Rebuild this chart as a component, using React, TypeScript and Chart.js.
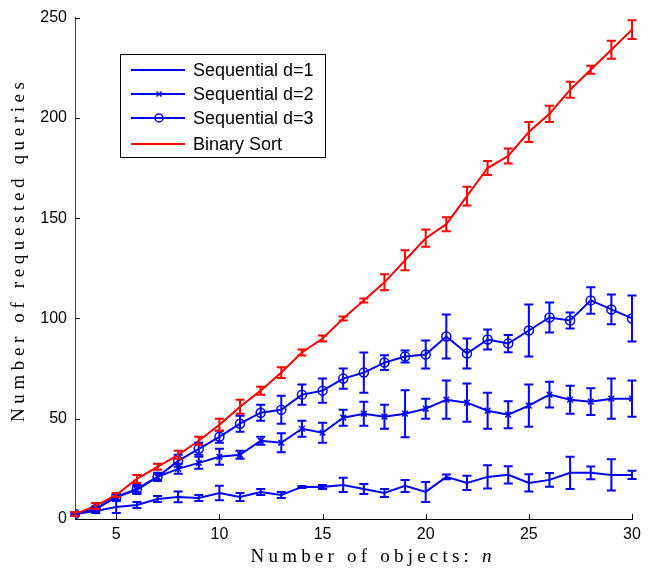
import React, { useEffect, useRef } from "react";
import { Chart, registerables } from "chart.js";

Chart.register(...registerables);

const objects = [3, 4, 5, 6, 7, 8, 9, 10, 11, 12, 13, 14, 15, 16, 17, 18, 19, 20, 21, 22, 23, 24, 25, 26, 27, 28, 29, 30];

const binarySort = [2.5, 6.5, 12, 20, 26, 32, 39, 47, 56, 64, 73, 83, 90, 100, 109, 118, 129, 140, 147, 161, 175, 181, 193, 202, 214, 224, 234, 244];
const binarySortErr = [1, 1.5, 1, 2, 1.5, 2, 2, 3, 3.5, 2, 2.7, 1.5, 1.5, 1, 1, 4, 5, 4.3, 3.5, 4.7, 3.5, 3.7, 5, 4, 4, 2, 4.5, 4.7];

const seqD3 = [2.5, 5, 11, 15, 21, 29, 35, 41, 47.5, 53, 54.5, 62, 64, 70, 73, 78, 81, 82, 91, 82.5, 89.5, 87.5, 94, 100.5, 99, 109, 104.5, 100];
const seqD3Err = [1, 1, 1.5, 2, 2, 3, 3, 3, 4, 4, 7, 5, 6, 5, 10, 3.7, 3, 7, 11, 7.5, 5, 4.3, 13, 7.5, 4, 6.6, 7.4, 11.5];

const seqD2 = [2.5, 5, 11, 14.5, 21, 25, 28, 31, 32, 39, 38, 45, 43, 50.5, 52.5, 51, 52.5, 55, 59.5, 58, 54, 52, 56.5, 62, 59.5, 58.5, 60, 60];
const seqD2Err = [1, 1, 1.5, 2, 1.5, 2.5, 3, 4, 2, 2, 4.7, 4, 5, 4, 6, 6, 11.7, 5, 9.5, 9.5, 9, 6.7, 10.5, 6.4, 7, 6.7, 10, 9];

const seqD1 = [2.5, 4, 6, 7, 10, 11, 10.5, 13, 11, 13.5, 12, 16, 16, 17, 15, 13, 16.5, 13.5, 21, 18, 21, 22, 18, 19.5, 23, 23, 22, 22];
const seqD1Err = [0.5, 1, 3, 1.5, 1.5, 2.7, 1.5, 3.6, 2, 1.5, 1.5, 0.5, 1, 3.6, 2.5, 2, 3, 5, 1.2, 3.6, 5.8, 4.3, 4.3, 3.4, 8, 3.2, 7.8, 2];

const xTicks = [5, 10, 15, 20, 25, 30];
const yTicks = [0, 50, 100, 150, 200, 250];

const legendLabels = ["Sequential d=1", "Sequential d=2", "Sequential d=3", "Binary Sort"];

const BLUE = "#0000ff";
const RED = "#ff0000";

const toPoints = (ys: number[]) => objects.map((x, i) => ({ x, y: ys[i] }));

export default function App() {
  const ref = useRef<HTMLCanvasElement | null>(null);

  useEffect(() => {
    document.body.style.margin = "0";
    const canvas = ref.current;
    if (!canvas) return;

    const errs = [binarySortErr, seqD3Err, seqD2Err, seqD1Err];
    const vals = [binarySort, seqD3, seqD2, seqD1];

    const errorBars = {
      id: "errorBars",
      afterDatasetsDraw(chart: any) {
        const ctx = chart.ctx;
        const ys = chart.scales.y;
        ctx.save();
        for (let d = chart.data.datasets.length - 1; d >= 0; d--) {
          const meta = chart.getDatasetMeta(d);
          const color = chart.data.datasets[d].borderColor;
          ctx.strokeStyle = color;
          ctx.lineWidth = 2;
          meta.data.forEach((pt: any, i: number) => {
            const v = vals[d][i];
            const e = errs[d][i];
            const yt = ys.getPixelForValue(v + e);
            const yb = ys.getPixelForValue(v - e);
            const x = pt.x;
            const cw = 4.5;
            ctx.beginPath();
            ctx.moveTo(x, yt);
            ctx.lineTo(x, yb);
            ctx.moveTo(x - cw, yt);
            ctx.lineTo(x + cw, yt);
            ctx.moveTo(x - cw, yb);
            ctx.lineTo(x + cw, yb);
            ctx.stroke();
          });
        }
        ctx.restore();
      },
    };

    const decorations = {
      id: "decorations",
      afterDraw(chart: any) {
        const ctx = chart.ctx;
        const xs = chart.scales.x;
        const ys = chart.scales.y;
        const area = chart.chartArea;
        ctx.save();
        // inward ticks
        ctx.strokeStyle = "#000";
        ctx.lineWidth = 1;
        ctx.beginPath();
        xTicks.forEach((t) => {
          const x = Math.round(xs.getPixelForValue(t)) + 0.5;
          ctx.moveTo(x, area.bottom);
          ctx.lineTo(x, area.bottom - 5);
        });
        yTicks.forEach((t) => {
          const y = Math.round(ys.getPixelForValue(t)) + 0.5;
          ctx.moveTo(area.left, y);
          ctx.lineTo(area.left + 5, y);
        });
        ctx.stroke();

        // legend
        const lx = 120.5, ly = 54.5, lw = 205, lh = 103;
        ctx.fillStyle = "#fff";
        ctx.fillRect(lx, ly, lw, lh);
        ctx.strokeStyle = "#000";
        ctx.lineWidth = 1;
        ctx.strokeRect(lx, ly, lw, lh);
        const rows = [70, 94, 118, 144];
        const colors = [BLUE, BLUE, BLUE, RED];
        ctx.font = "18px 'Liberation Sans', Arial, sans-serif";
        ctx.textBaseline = "middle";
        ctx.textAlign = "left";
        rows.forEach((y, i) => {
          ctx.strokeStyle = colors[i];
          ctx.lineWidth = 2;
          ctx.beginPath();
          ctx.moveTo(131, y);
          ctx.lineTo(185, y);
          ctx.stroke();
          const cx = 159;
          if (i === 1) {
            ctx.lineWidth = 1.5;
            ctx.beginPath();
            ctx.moveTo(cx - 2.5, y - 2.5);
            ctx.lineTo(cx + 2.5, y + 2.5);
            ctx.moveTo(cx - 2.5, y + 2.5);
            ctx.lineTo(cx + 2.5, y - 2.5);
            ctx.stroke();
          } else if (i === 2) {
            ctx.lineWidth = 1.5;
            ctx.beginPath();
            ctx.arc(cx, y, 4, 0, Math.PI * 2);
            ctx.stroke();
          }
          ctx.fillStyle = "#000";
          ctx.fillText(legendLabels[i], 193, y + 1);
        });

        // axis titles (serif, LaTeX-like spacing)
        ctx.fillStyle = "#000";
        ctx.textBaseline = "middle";
        const serif = "'Liberation Serif', 'DejaVu Serif', serif";
        const fs = 19;
        // x title
        const part1 = "Number of objects: ";
        const part2 = "n";
        ctx.font = `${fs}px ${serif}`;
        (ctx as any).letterSpacing = "0px";
        const w1raw = ctx.measureText(part1).width;
        ctx.font = `italic ${fs}px ${serif}`;
        const w2 = ctx.measureText(part2).width;
        const targetX = 241;
        const spacing = Math.max(0, (targetX - w1raw - w2) / part1.length);
        const startX = 371 - targetX / 2;
        ctx.font = `${fs}px ${serif}`;
        (ctx as any).letterSpacing = `${spacing}px`;
        ctx.textAlign = "left";
        ctx.fillText(part1, startX, 557);
        const w1 = ctx.measureText(part1).width;
        (ctx as any).letterSpacing = "0px";
        ctx.font = `italic ${fs}px ${serif}`;
        ctx.fillText(part2, startX + w1, 557);

        // y title
        const yt = "Number of requested queries";
        ctx.font = `${fs}px ${serif}`;
        (ctx as any).letterSpacing = "0px";
        const wy = ctx.measureText(yt).width;
        const targetY = 340;
        const sy = Math.max(0, (targetY - wy) / (yt.length - 1));
        ctx.save();
        ctx.translate(19, 252);
        ctx.rotate(-Math.PI / 2);
        (ctx as any).letterSpacing = `${sy}px`;
        ctx.textAlign = "left";
        ctx.fillText(yt, -targetY / 2, 0);
        ctx.restore();
        (ctx as any).letterSpacing = "0px";
        ctx.restore();
      },
    };

    const chart = new Chart(canvas, {
      type: "line",
      data: {
        datasets: [
          {
            label: legendLabels[3],
            data: toPoints(binarySort),
            borderColor: RED,
            backgroundColor: RED,
            borderWidth: 2,
            pointRadius: 0,
          },
          {
            label: legendLabels[2],
            data: toPoints(seqD3),
            borderColor: BLUE,
            backgroundColor: "rgba(0,0,0,0)",
            borderWidth: 2,
            pointStyle: "circle",
            pointRadius: 4.5,
            pointBorderWidth: 1.5,
            pointBorderColor: BLUE,
            pointBackgroundColor: "rgba(0,0,0,0)",
          },
          {
            label: legendLabels[1],
            data: toPoints(seqD2),
            borderColor: BLUE,
            backgroundColor: BLUE,
            borderWidth: 2,
            pointStyle: "crossRot",
            pointRadius: 4,
            pointBorderWidth: 1.5,
            pointBorderColor: BLUE,
          },
          {
            label: legendLabels[0],
            data: toPoints(seqD1),
            borderColor: BLUE,
            backgroundColor: BLUE,
            borderWidth: 2,
            pointRadius: 0,
          },
        ],
      },
      options: {
        responsive: false,
        animation: false,
        devicePixelRatio: 1,
        layout: { padding: { left: 0, right: 24, top: 14, bottom: 0 } },
        plugins: { legend: { display: false }, tooltip: { enabled: false } },
        elements: { line: { tension: 0 } },
        scales: {
          x: {
            type: "linear",
            min: 3,
            max: 30,
            afterBuildTicks: (s: any) => {
              s.ticks = xTicks.map((v) => ({ value: v }));
            },
            afterFit: (s: any) => {
              s.height = 50;
            },
            grid: { display: false, drawTicks: false },
            border: { display: true, color: "#000", width: 1 },
            ticks: {
              color: "#000",
              padding: 6,
              maxRotation: 0,
              font: { family: "'Liberation Sans', Arial, sans-serif", size: 16 },
            },
          },
          y: {
            type: "linear",
            min: 0,
            max: 250,
            afterBuildTicks: (s: any) => {
              s.ticks = yTicks.map((v) => ({ value: v }));
            },
            afterFit: (s: any) => {
              s.width = 75;
            },
            grid: { display: false, drawTicks: false },
            border: { display: true, color: "#444", width: 1 },
            ticks: {
              color: "#000",
              padding: 8,
              font: { family: "'Liberation Sans', Arial, sans-serif", size: 16 },
            },
          },
        },
      },
      plugins: [errorBars, decorations],
    } as any);

    return () => chart.destroy();
  }, []);

  return <canvas ref={ref} width={656} height={569} style={{ display: "block" }} />;
}
